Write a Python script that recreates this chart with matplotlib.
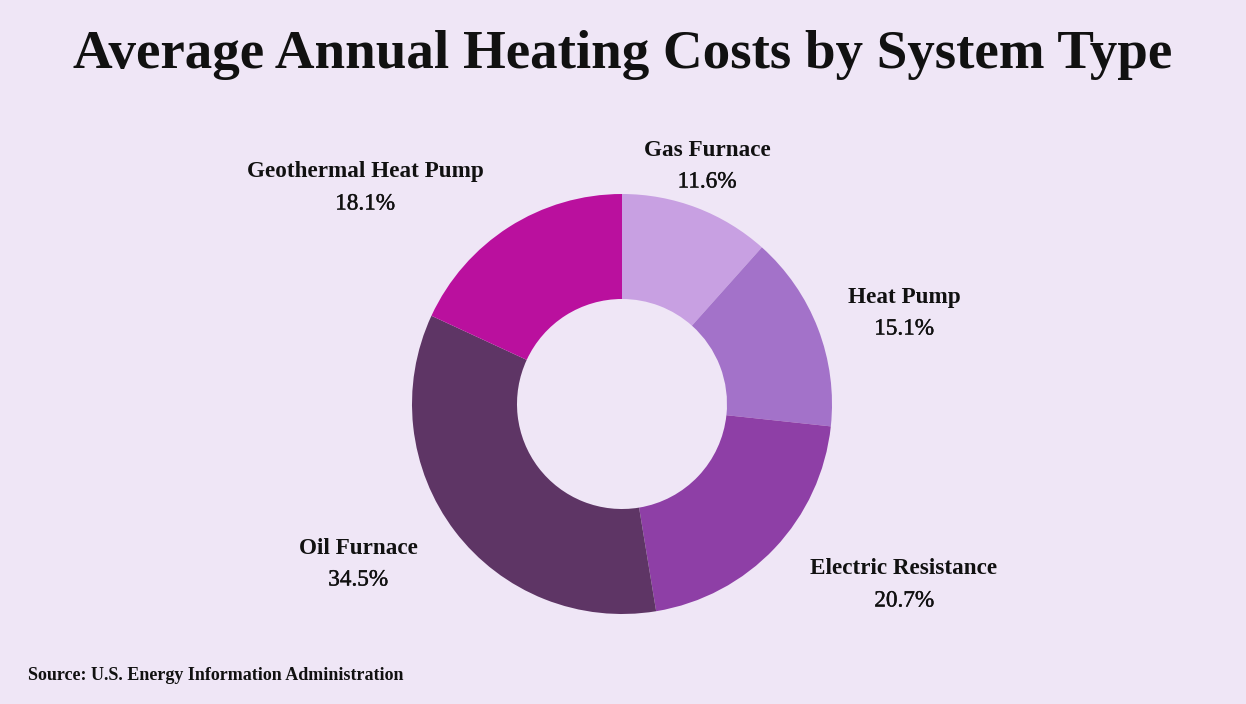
import matplotlib
matplotlib.use("Agg")
import matplotlib.pyplot as plt
import matplotlib.patheffects as pe

categories = ["Gas Furnace", "Heat Pump", "Electric Resistance", "Oil Furnace", "Geothermal Heat Pump"]
shares = [11.6, 15.1, 20.7, 34.5, 18.1]
colors = ["#C8A0E2", "#A372C9", "#8E3FA6", "#5E3565", "#BA109E"]

# label centres in figure pixel coords (x, y from top)
label_pos = [(707, 150), (904, 297), (904, 569), (358, 548), (365, 172)]

BG = "#EFE6F6"
W, H = 1246, 704
fig = plt.figure(figsize=(W / 100, H / 100), dpi=100, facecolor=BG)
ax = fig.add_axes([0, 0, 1, 1])
ax.set_facecolor(BG)

cx, cy, R = 622, H - 404, 210
ax.pie(shares, colors=colors, startangle=90, counterclock=False,
       center=(cx, cy), radius=R, frame=True,
       wedgeprops=dict(width=R * 0.5, linewidth=0))
ax.set_xlim(0, W)
ax.set_ylim(0, H)
ax.set_aspect("equal")
ax.axis("off")

serif = ["Liberation Serif", "DejaVu Serif"]
ink = "#111111"
fig.text(0.5, 1 - 55 / H, "Average Annual Heating Costs by System Type",
         ha="center", va="center", fontsize=39.6, fontweight="bold",
         family=serif, color=ink)

thick = [pe.withStroke(linewidth=0.3, foreground=ink)]
for name, val, (px, py) in zip(categories, shares, label_pos):
    ax.text(px, H - py, name, ha="center", va="center", fontsize=16.7,
            fontweight="bold", family=serif, color=ink)
    ax.text(px, H - py - 32, f"{val:.1f}%", ha="center", va="center",
            fontsize=16.7, family=serif, color=ink, path_effects=thick)

fig.text(28 / W, 1 - 675 / H, "Source: U.S. Energy Information Administration",
         ha="left", va="center", fontsize=13, fontweight="bold",
         family=serif, color=ink)

fig.savefig("out.png", dpi=100, facecolor=BG)
